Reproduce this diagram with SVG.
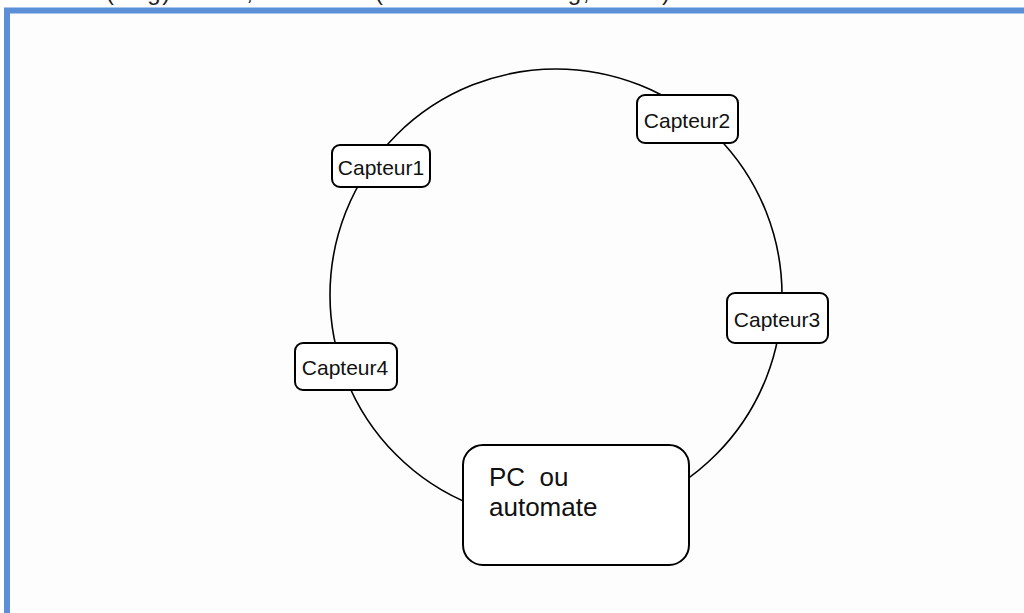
<svg xmlns="http://www.w3.org/2000/svg" width="1024" height="613" viewBox="0 0 1024 613">
  <style>
    .frame { fill: #fdfdfd; stroke: #5b8fd6; stroke-width: 6; }
    .ring { fill: none; stroke: #000; stroke-width: 1.6; }
    .node { fill: #fff; stroke: #000; stroke-width: 2; }
    .lbl { font-family: "Liberation Sans", Arial, sans-serif; font-size: 21px; fill: #111; text-anchor: middle; }
    .big { font-family: "Liberation Sans", Arial, sans-serif; font-size: 26px; fill: #111; }
    .head { font-family: "Liberation Sans", Arial, sans-serif; font-size: 24px; fill: #222; }
  </style>

  <rect width="1024" height="613" fill="#fff"/>

  <!-- title line, clipped by the top edge -->
  <text class="head" x="5" y="-0.5" textLength="665" lengthAdjust="spacing">Anneau (ring) : rare, obsolète (ex. : Token Ring, FDDI)</text>

  <!-- slide frame -->
  <rect class="frame" x="7" y="10.5" width="1040" height="620"/>

  <!-- the ring linking all stations -->
  <g id="connectors">
    <circle class="ring" cx="556" cy="295" r="226"/>
  </g>

  <g id="capteur1">
    <rect class="node" x="332" y="145" width="98" height="42" rx="8"/>
    <text class="lbl" x="381" y="175">Capteur1</text>
  </g>

  <g id="capteur2">
    <rect class="node" x="637" y="95" width="101" height="48" rx="8"/>
    <text class="lbl" x="687" y="128">Capteur2</text>
  </g>

  <g id="capteur3">
    <rect class="node" x="727" y="293" width="101" height="50" rx="8"/>
    <text class="lbl" x="777" y="327">Capteur3</text>
  </g>

  <g id="capteur4">
    <rect class="node" x="295" y="343" width="102" height="47" rx="8"/>
    <text class="lbl" x="345" y="375">Capteur4</text>
  </g>

  <g id="pc">
    <rect class="node" x="463" y="445" width="226" height="120" rx="20"/>
    <text class="big" x="489" y="486" xml:space="preserve">PC  ou</text>
    <text class="big" x="489" y="516">automate</text>
  </g>
</svg>
